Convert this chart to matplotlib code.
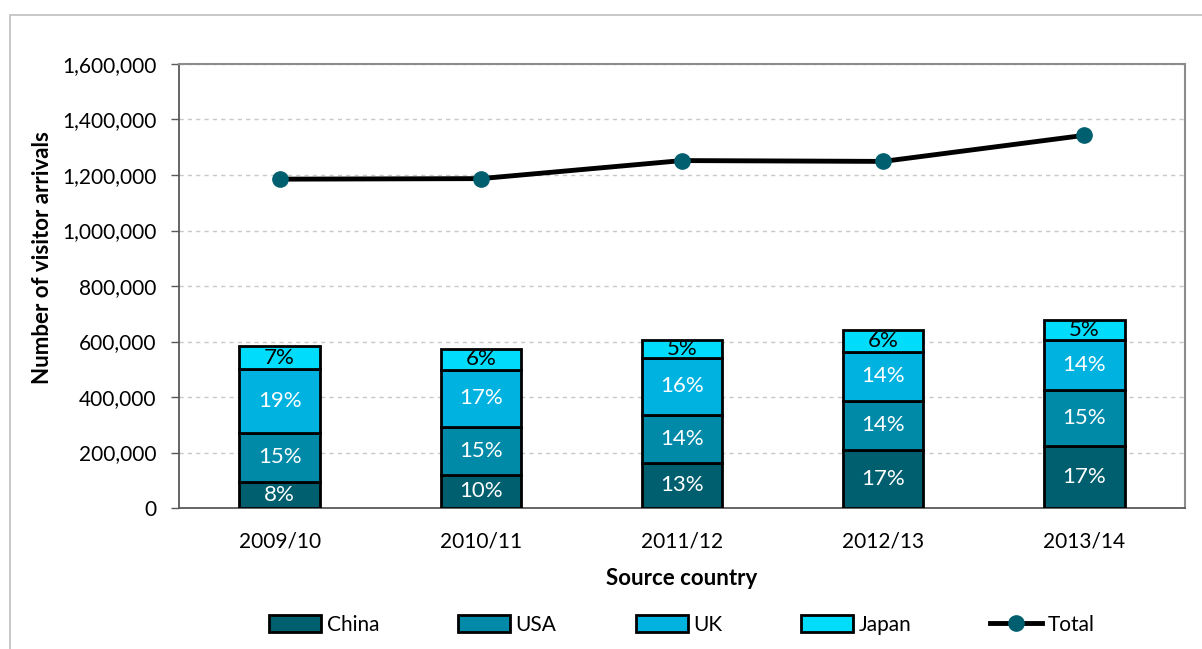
import numpy as np
import matplotlib
matplotlib.use("Agg")
import matplotlib.pyplot as plt
from matplotlib.patches import Rectangle

plt.rcParams['font.family'] = ['Lato', 'DejaVu Sans']

# data
years = ['2009/10', '2010/11', '2011/12', '2012/13', '2013/14']
china = [95000, 119000, 163000, 209000, 225000]
usa = [176000, 174000, 172000, 177000, 199000]
uk = [229000, 205000, 206000, 177000, 183000]
japan = [82000, 76000, 63000, 78000, 72000]
total = [1185000, 1187000, 1252000, 1249000, 1343000]

series = [('China', china, '#005f6f', 'white'),
          ('USA', usa, '#008aa8', 'white'),
          ('UK', uk, '#00b2e0', 'white'),
          ('Japan', japan, '#00dcfc', 'black')]

fig = plt.figure(figsize=(12.02, 6.49), dpi=100)
W, H = 1202, 649
ax = fig.add_axes([179 / W, 1 - 508 / H, (1185 - 179) / W, (508 - 64) / H])

x = np.arange(len(years))
bottom = np.zeros(len(years))
for name, vals, col, tcol in series:
    vals = np.array(vals, dtype=float)
    ax.bar(x, vals, 0.4, bottom=bottom, color=col, edgecolor='black',
           linewidth=2, label=name, zorder=3)
    for i in range(len(years)):
        pct = round(vals[i] / total[i] * 100)
        ax.text(x[i], bottom[i] + vals[i] / 2, '%d%%' % pct, ha='center',
                va='center', color=tcol, fontsize=16, zorder=4)
    bottom += vals

ax.plot(x, total, color='black', linewidth=3.5, marker='o', markersize=11,
        markerfacecolor='#005f6f', markeredgecolor='#005f6f', label='Total',
        zorder=5)

ax.set_xlim(-0.5, len(years) - 0.5)
ax.set_ylim(0, 1600000)
ax.set_yticks(np.arange(0, 1600001, 200000))
ax.yaxis.set_major_formatter(matplotlib.ticker.FuncFormatter(lambda v, p: '{:,.0f}'.format(v)))
ax.set_xticks(x)
ax.set_xticklabels(years)
ax.tick_params(axis='y', labelsize=15, length=6, width=1, color='#595959', pad=10)
ax.tick_params(axis='x', labelsize=15, length=0, pad=17)
ax.grid(axis='y', linestyle=(0, (3, 3)), color='#c8c8c8', linewidth=1, zorder=0)

for s in ['top', 'right']:
    ax.spines[s].set_color('#8c8c8c')
    ax.spines[s].set_linewidth(1.5)
for s in ['left', 'bottom']:
    ax.spines[s].set_color('#595959')
    ax.spines[s].set_linewidth(1.3)

ax.set_xlabel('Source country', fontsize=16, fontweight='bold', labelpad=12)
ax.set_ylabel('Number of visitor arrivals', fontsize=16, fontweight='bold')
ax.yaxis.set_label_coords(-0.125, 0.565)

handles, labels = ax.get_legend_handles_labels()
order = [1, 2, 3, 4, 0]
leg = fig.legend([handles[i] for i in order], [labels[i] for i in order],
                 loc='center', bbox_to_anchor=(682 / W, 1 - 625 / H), ncol=5,
                 frameon=False, fontsize=15, handlelength=2.5, handleheight=0.9,
                 handletextpad=0.25, columnspacing=3.8)

# outer chart border
fig.patches.append(Rectangle((10 / W, -0.1), 1.2, 1 - 15 / H + 0.1, transform=fig.transFigure,
                             fill=False, edgecolor='#bfbfbf', linewidth=1.2))

fig.savefig('out.png', dpi=100)
